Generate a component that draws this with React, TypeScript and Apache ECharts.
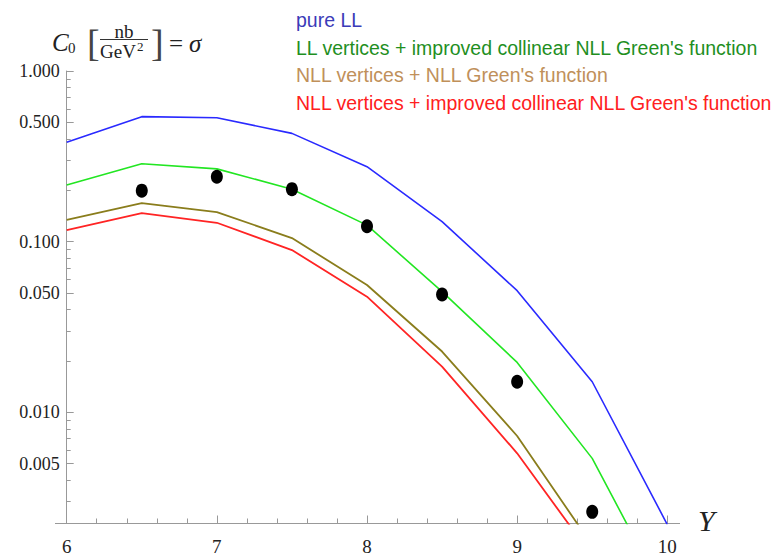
import React, { useEffect, useRef } from "react";
import * as echarts from "echarts";

const xValues = [6, 6.5, 7, 7.5, 8, 8.5, 9, 9.5, 10];
const pureLL = [0.382, 0.54, 0.532, 0.431, 0.275, 0.131, 0.0516, 0.0151, 0.0022];
const llImprovedNLL = [0.215, 0.286, 0.267, 0.203, 0.125, 0.0509, 0.0196, 0.00537, 0.00079];
const nllNLL = [0.134, 0.168, 0.149, 0.105, 0.0557, 0.0227, 0.00726, 0.00166, 0.0004];
const nllImprovedNLL = [0.117, 0.147, 0.129, 0.0893, 0.0476, 0.0185, 0.00575, 0.00143, 0.00035];

const dataX = [6.5, 7, 7.5, 8, 8.5, 9, 9.5];
const dataY = [0.199, 0.24, 0.203, 0.123, 0.049, 0.0151, 0.00261];

const yMajorTicks = [0.005, 0.01, 0.05, 0.1, 0.5, 1];
const yMinorTicks = [
  0.003, 0.004, 0.006, 0.007, 0.008, 0.009, 0.02, 0.03, 0.04, 0.06, 0.07, 0.08, 0.09,
  0.2, 0.3, 0.4, 0.6, 0.7, 0.8, 0.9,
];

const legendNames = [
  "pure LL",
  "LL vertices + improved collinear NLL Green's function",
  "NLL vertices + NLL Green's function",
  "NLL vertices + improved collinear NLL Green's function",
];

const GRID_LEFT = 66.7;
const GRID_RIGHT_X = 667.3;
const GRID_TOP = 71;
const GRID_BOTTOM_Y = 523.5;
const AXIS_COLOR = "#999999";
const SERIF = "'Liberation Serif', 'DejaVu Serif', serif";
const SANS = "'Liberation Sans', Arial, sans-serif";

export default function App() {
  const ref = useRef<HTMLDivElement>(null);

  useEffect(() => {
    if (!ref.current) return;
    const chart = echarts.init(ref.current, undefined, { renderer: "svg" });
    const gridWidth = GRID_RIGHT_X - GRID_LEFT;
    const pair = (ys: number[]) => xValues.map((x, i) => [x, ys[i]]);

    const lineSeries = (name: string, ys: number[], color: string, width: number) => ({
      name,
      type: "line",
      data: pair(ys),
      showSymbol: false,
      symbol: "none",
      clip: true,
      lineStyle: { color, width },
      itemStyle: { color },
      z: 2,
    });

    const legendColors = ["#3b3bb8", "#1f8f1f", "#c0905a", "#ff2020"];
    const legendBaselines = [20.1, 47.7, 75.1, 103.4];

    const option: any = {
      animation: false,
      backgroundColor: "#ffffff",
      grid: {
        left: GRID_LEFT,
        top: GRID_TOP,
        width: gridWidth,
        height: GRID_BOTTOM_Y - GRID_TOP,
        containLabel: false,
      },
      xAxis: {
        type: "value",
        min: 6,
        max: 10,
        interval: 1,
        axisLine: { show: true, onZero: false, lineStyle: { color: AXIS_COLOR, width: 1 } },
        axisTick: { show: true, inside: true, length: 8, lineStyle: { color: AXIS_COLOR } },
        minorTick: { show: true, splitNumber: 5, length: 5, lineStyle: { color: AXIS_COLOR } },
        splitLine: { show: false },
        axisLabel: {
          fontFamily: SERIF,
          fontSize: 19,
          color: "#222222",
          margin: 13,
        },
      },
      yAxis: [
        {
          type: "log",
          logBase: 10,
          min: 0.00223,
          max: 1,
          position: "left",
          axisLine: { show: true, onZero: false, lineStyle: { color: AXIS_COLOR, width: 1 } },
          axisTick: {
            show: true,
            inside: true,
            length: 7,
            customValues: yMajorTicks,
            lineStyle: { color: AXIS_COLOR },
          },
          splitLine: { show: false },
          axisLabel: {
            customValues: yMajorTicks,
            fontFamily: SERIF,
            fontSize: 18,
            color: "#222222",
            margin: 7,
            formatter: (v: number) => Number(v).toFixed(3),
          },
        },
        {
          type: "log",
          logBase: 10,
          min: 0.00223,
          max: 1,
          position: "right",
          offset: -gridWidth,
          axisLine: { show: false },
          axisTick: {
            show: true,
            inside: false,
            length: 4,
            customValues: yMinorTicks,
            lineStyle: { color: AXIS_COLOR },
          },
          splitLine: { show: false },
          axisLabel: { show: false },
        },
      ],
      series: [
        lineSeries(legendNames[0], pureLL, "#2a2aff", 1.6),
        lineSeries(legendNames[1], llImprovedNLL, "#22e622", 1.6),
        lineSeries(legendNames[2], nllNLL, "#8a7d1c", 1.8),
        lineSeries(legendNames[3], nllImprovedNLL, "#ff2424", 1.8),
        {
          name: "data",
          type: "scatter",
          data: dataX.map((x, i) => [x, dataY[i]]),
          symbol: "circle",
          symbolSize: [12, 14],
          itemStyle: { color: "#000000", opacity: 1 },
          z: 5,
        },
      ],
      graphic: [
        {
          type: "line",
          shape: { x1: 55, y1: GRID_BOTTOM_Y, x2: GRID_LEFT, y2: GRID_BOTTOM_Y },
          style: { stroke: AXIS_COLOR, lineWidth: 1 },
        },
        {
          type: "line",
          shape: { x1: GRID_RIGHT_X, y1: GRID_BOTTOM_Y, x2: 680, y2: GRID_BOTTOM_Y },
          style: { stroke: AXIS_COLOR, lineWidth: 1 },
        },
        {
          type: "text",
          x: 698,
          y: 520,
          style: {
            text: "Y",
            font: `italic 30px ${SERIF}`,
            fill: "#222222",
            verticalAlign: "middle",
            align: "left",
          },
        },
        // title: C0 [nb / GeV^2] = sigma
        {
          type: "text",
          x: 52,
          y: 42,
          style: { text: "C", font: `italic 25px ${SERIF}`, fill: "#222222", verticalAlign: "middle" },
        },
        {
          type: "text",
          x: 68,
          y: 48,
          style: { text: "0", font: `15px ${SERIF}`, fill: "#222222", verticalAlign: "middle" },
        },
        {
          type: "text",
          x: 87,
          y: 43,
          style: { text: "[", font: `38px ${SERIF}`, fill: "#444444", verticalAlign: "middle" },
        },
        {
          type: "text",
          x: 124,
          y: 31,
          style: { text: "nb", font: `19px ${SERIF}`, fill: "#222222", verticalAlign: "middle", align: "center" },
        },
        {
          type: "line",
          shape: { x1: 100, y1: 39.5, x2: 148, y2: 39.5 },
          style: { stroke: "#333333", lineWidth: 1 },
        },
        {
          type: "text",
          x: 100,
          y: 51,
          style: { text: "GeV", font: `19px ${SERIF}`, fill: "#222222", verticalAlign: "middle" },
        },
        {
          type: "text",
          x: 137,
          y: 46,
          style: { text: "2", font: `13px ${SERIF}`, fill: "#222222", verticalAlign: "middle" },
        },
        {
          type: "text",
          x: 151,
          y: 43,
          style: { text: "]", font: `38px ${SERIF}`, fill: "#444444", verticalAlign: "middle" },
        },
        {
          type: "text",
          x: 169,
          y: 43,
          style: { text: "=", font: `25px ${SERIF}`, fill: "#222222", verticalAlign: "middle" },
        },
        {
          type: "text",
          x: 189,
          y: 43,
          style: { text: "σ", font: `italic 25px ${SERIF}`, fill: "#222222", verticalAlign: "middle" },
        },
        ...legendNames.map((name, i) => ({
          type: "text",
          x: 296,
          y: legendBaselines[i],
          style: {
            text: name,
            font: `19.5px ${SANS}`,
            fill: legendColors[i],
            verticalAlign: "middle",
            align: "left",
          },
        })),
      ],
    };

    chart.setOption(option);
    return () => chart.dispose();
  }, []);

  return (
    <div
      ref={ref}
      style={{ position: "fixed", left: 0, top: 0, width: 771, height: 557, background: "#fff" }}
    />
  );
}
